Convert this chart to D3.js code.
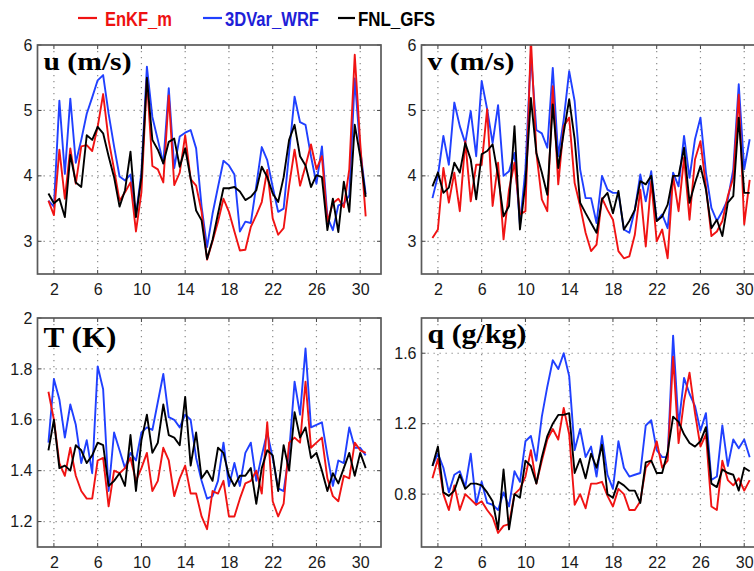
<!DOCTYPE html>
<html lang="en">
<head>
<meta charset="utf-8">
<title>EnKF_m / 3DVar_WRF / FNL_GFS</title>
<script src="https://cdn.jsdelivr.net/npm/d3@7/dist/d3.min.js"></script>
<style>
  body { margin: 0; background: #fff; }
  svg { display: block; }
  .tick-label { font-family: "Liberation Sans", Arial, sans-serif; font-size: 16px; fill: #1a1a1a; }
  .title { font-family: "Liberation Serif", "Times New Roman", serif; font-weight: bold; fill: #000; }
  .legend { font-family: "Liberation Sans", Arial, sans-serif; font-weight: bold; font-size: 21px; }
</style>
</head>
<body>
<script>
// time axis: day of month, every 12 h
const days = d3.range(1.5, 30.51, 0.5);
const xTicks = [2, 6, 10, 14, 18, 22, 26, 30];

const seriesNames = ["EnKF_m", "3DVar_WRF", "FNL_GFS"];
const seriesColors = ["#f01313", "#2040ff", "#000000"];

// u (m/s)
const uEnKF = [3.62,3.40,4.40,3.65,4.42,3.88,4.45,4.47,4.38,4.75,5.25,4.55,4.10,3.62,3.75,3.90,3.15,3.75,5.48,4.15,
  4.10,3.90,5.23,3.86,4.05,4.62,3.95,3.85,3.45,2.72,3.00,3.30,3.65,3.45,3.15,2.86,2.87,3.22,3.40,3.60,
  4.09,3.35,3.10,3.20,3.85,4.40,3.85,4.15,4.48,4.10,4.30,3.30,3.58,3.65,3.52,4.10,5.85,4.50,3.38];
const u3DVar = [3.62,3.53,5.15,4.03,5.18,4.20,4.55,4.95,5.20,5.46,5.54,4.95,4.45,3.99,3.93,4.02,3.40,4.05,5.67,4.90,
  4.55,4.19,5.34,4.12,4.60,4.66,4.70,4.42,3.53,2.91,3.42,3.83,4.23,4.16,4.02,3.15,3.30,3.28,3.85,4.44,
  4.24,3.83,3.45,3.50,4.35,5.21,4.82,4.78,4.30,3.88,4.45,3.37,3.17,3.55,3.58,3.70,5.49,4.40,3.72];
const uFNL = [3.73,3.58,3.65,3.37,4.32,3.90,3.83,4.62,4.55,4.75,4.65,4.30,3.98,3.53,3.78,4.37,3.37,3.98,5.50,4.55,
  4.40,4.19,4.52,4.57,4.14,4.42,3.96,3.47,3.32,2.73,3.02,3.42,3.81,3.81,3.83,3.76,3.63,3.68,3.78,4.14,
  3.98,3.73,3.60,3.98,4.55,4.78,4.30,4.16,3.83,4.01,3.98,3.17,3.65,3.14,3.91,3.45,4.78,4.30,3.68];

// v (m/s)
const vEnKF = [3.05,3.18,4.12,3.59,4.05,3.46,4.53,3.61,4.17,4.17,5.02,3.54,4.20,3.03,3.79,4.20,3.41,3.46,6.10,4.35,
  3.64,3.46,5.37,3.87,4.76,4.89,3.89,3.54,3.13,2.85,2.95,3.66,3.48,3.33,2.85,2.74,2.77,3.10,3.79,2.92,
  3.92,3.00,3.18,2.74,4.00,3.46,4.28,3.33,4.25,4.53,3.84,3.08,3.15,3.31,3.69,3.97,5.24,3.26,3.94];
const v3DVar = [3.66,4.00,4.61,4.17,5.12,4.76,4.50,4.99,4.30,5.45,5.02,4.50,5.08,4.00,4.07,4.35,3.25,4.10,5.86,4.70,
  4.65,4.43,5.65,4.30,4.86,5.60,5.14,4.10,3.66,3.66,3.28,4.00,3.79,3.74,3.74,3.18,3.13,3.48,4.02,3.61,
  4.07,3.31,3.41,3.20,4.05,3.84,4.61,3.97,4.56,4.89,4.05,3.51,3.31,3.46,3.64,4.10,5.40,4.10,4.56];
const vFNL = [3.84,4.05,3.74,3.82,4.20,4.05,4.50,4.25,3.64,4.33,4.38,4.48,4.00,3.38,3.54,4.76,3.18,3.89,5.19,4.35,
  4.05,3.71,5.09,4.12,4.66,5.17,4.56,3.59,3.43,3.28,3.13,3.64,3.74,3.43,3.77,3.18,3.31,3.48,3.92,3.87,
  4.00,3.31,3.38,3.56,4.00,4.00,4.43,3.59,3.89,4.15,3.79,3.20,3.33,3.08,3.59,3.69,4.89,3.74,3.74];

// T (K)
const tEnKF = [1.71,1.60,1.43,1.38,1.49,1.38,1.32,1.29,1.29,1.44,1.45,1.26,1.40,1.39,1.41,1.45,1.36,1.41,1.47,1.32,
  1.36,1.49,1.44,1.30,1.37,1.42,1.31,1.31,1.22,1.17,1.32,1.31,1.36,1.22,1.22,1.29,1.35,1.36,1.40,1.31,
  1.59,1.28,1.22,1.27,1.51,1.53,1.51,1.75,1.49,1.51,1.53,1.37,1.30,1.28,1.38,1.37,1.51,1.48,1.47];
const t3DVar = [1.51,1.76,1.68,1.53,1.66,1.58,1.43,1.52,1.39,1.81,1.72,1.32,1.55,1.48,1.41,1.47,1.44,1.55,1.57,1.56,
  1.67,1.78,1.61,1.60,1.57,1.62,1.60,1.45,1.36,1.29,1.30,1.36,1.51,1.34,1.43,1.34,1.47,1.51,1.36,1.46,
  1.55,1.45,1.33,1.32,1.47,1.75,1.62,1.88,1.57,1.58,1.59,1.46,1.34,1.44,1.43,1.57,1.49,1.49,1.46];
const tFNL = [1.48,1.60,1.41,1.42,1.40,1.50,1.48,1.43,1.46,1.51,1.50,1.34,1.36,1.39,1.34,1.54,1.32,1.52,1.62,1.47,
  1.51,1.66,1.54,1.53,1.50,1.69,1.42,1.55,1.37,1.40,1.36,1.49,1.47,1.38,1.34,1.38,1.38,1.41,1.27,1.41,
  1.48,1.46,1.32,1.50,1.40,1.63,1.53,1.57,1.45,1.47,1.40,1.32,1.39,1.35,1.41,1.47,1.38,1.47,1.41];

// q (g/kg)
const qEnKF = [0.89,1.00,0.80,0.71,0.85,0.71,0.80,0.77,0.74,0.76,0.71,0.67,0.58,0.62,0.63,0.80,0.83,0.90,1.05,0.86,
  0.99,1.11,1.17,1.11,1.29,1.14,0.74,0.80,0.72,0.86,0.86,0.87,0.79,0.73,0.83,0.80,0.71,0.71,0.76,0.95,
  0.99,1.10,0.95,0.99,1.58,1.09,1.33,1.49,1.26,1.07,1.14,0.73,0.71,0.99,0.88,0.85,0.89,0.82,0.88];
const q3DVar = [0.96,1.03,0.95,0.81,0.91,0.93,0.84,1.03,0.74,0.87,0.75,0.74,0.71,0.81,0.73,0.93,0.87,1.10,1.13,0.99,
  1.24,1.41,1.56,1.51,1.60,1.47,1.05,1.17,1.01,1.07,0.90,1.13,0.91,0.83,1.10,0.95,0.90,0.91,0.92,1.19,
  1.22,1.05,1.01,1.01,1.70,1.19,1.46,1.37,1.30,1.16,1.26,0.88,0.90,1.19,0.96,1.11,1.06,1.11,1.01];
const qFNL = [0.96,1.07,0.81,0.79,0.82,0.91,0.83,0.86,0.86,0.85,0.81,0.76,0.60,0.94,0.60,0.80,0.78,0.99,0.96,0.86,
  1.01,1.13,1.20,1.25,1.25,1.26,0.92,1.00,0.89,1.03,0.95,1.08,0.80,0.78,0.87,0.85,0.82,0.82,0.75,0.98,
  0.99,0.92,0.92,1.04,1.24,1.21,1.14,1.09,1.07,1.10,1.18,0.86,0.84,0.94,0.92,0.91,0.82,0.95,0.93];

const panels = [
  { title: "u (m/s)", series: [uEnKF, u3DVar, uFNL], yDomain: [2.5, 6], yTicks: [3, 4, 5, 6],
    left: 37.5, top: 45, titleSize: 26, titleLen: 88, titleY: 70 },
  { title: "v (m/s)", series: [vEnKF, v3DVar, vFNL], yDomain: [2.5, 6], yTicks: [3, 4, 5, 6],
    left: 421.5, top: 45, titleSize: 26, titleLen: 87, titleY: 70 },
  { title: "T (K)", series: [tEnKF, t3DVar, tFNL], yDomain: [1.1, 2], yTicks: [1.2, 1.4, 1.6, 1.8, 2],
    left: 37.5, top: 318, titleSize: 29, titleLen: 73, titleY: 347 },
  { title: "q (g/kg)", series: [qEnKF, q3DVar, qFNL], yDomain: [0.5, 1.8], yTicks: [0.8, 1.2, 1.6],
    left: 421.5, top: 318, titleSize: 27, titleLen: 99, titleY: 343 }
];

const W = 754, H = 571;
const pw = 343.5, ph = 229;

const svg = d3.select("body").append("svg")
  .attr("width", W)
  .attr("height", H);

// legend
const legendItems = [
  { x1: 78, x2: 97, tx: 105, tl: 67 },
  { x1: 203, x2: 222, tx: 225, tl: 94 },
  { x1: 338, x2: 355, tx: 358, tl: 77 }
];
legendItems.forEach((it, i) => {
  svg.append("line")
    .attr("x1", it.x1).attr("x2", it.x2)
    .attr("y1", 18).attr("y2", 18)
    .attr("stroke", seriesColors[i]).attr("stroke-width", 2.2);
  svg.append("text")
    .attr("class", "legend")
    .attr("x", it.tx).attr("y", 26)
    .attr("textLength", it.tl).attr("lengthAdjust", "spacingAndGlyphs")
    .attr("fill", i == 0 ? "#ee1111" : (i == 1 ? "#1f1fd8" : "#000"))
    .text(seriesNames[i]);
});

panels.forEach((p, pi) => {
  const g = svg.append("g").attr("transform", `translate(${p.left},${p.top})`);

  const x = d3.scaleLinear().domain([0.5, 31.9]).range([0, pw]);
  const y = d3.scaleLinear().domain(p.yDomain).range([ph, 0]);

  const clipId = "clip" + pi;
  g.append("clipPath").attr("id", clipId)
    .append("rect").attr("width", pw).attr("height", ph);

  // dotted grid
  g.selectAll(".vgrid").data(xTicks).enter().append("line")
    .attr("x1", d => x(d)).attr("x2", d => x(d))
    .attr("y1", 0).attr("y2", ph)
    .attr("stroke", "#8a8a8a").attr("stroke-width", 1.2)
    .attr("stroke-dasharray", "1.3,4.7");
  g.selectAll(".hgrid").data(p.yTicks.filter(t => t < p.yDomain[1])).enter().append("line")
    .attr("x1", 0).attr("x2", pw)
    .attr("y1", d => y(d)).attr("y2", d => y(d))
    .attr("stroke", "#8a8a8a").attr("stroke-width", 1.2)
    .attr("stroke-dasharray", "1.3,4.7");

  // axes
  const xAxis = d3.axisBottom(x).tickValues(xTicks).tickSize(0).tickPadding(10);
  const yAxis = d3.axisLeft(y).tickValues(p.yTicks).tickSize(0).tickPadding(5).tickFormat(d3.format("~g"));
  const gx = g.append("g").attr("transform", `translate(0,${ph})`).call(xAxis);
  const gy = g.append("g").call(yAxis);
  [gx, gy].forEach(a => {
    a.select(".domain").remove();
    a.selectAll("text").attr("class", "tick-label").attr("fill", null);
  });

  // small inward tick marks on all sides
  xTicks.forEach(t => {
    g.append("line").attr("x1", x(t)).attr("x2", x(t)).attr("y1", ph).attr("y2", ph - 4)
      .attr("stroke", "#444").attr("stroke-width", 1);
    g.append("line").attr("x1", x(t)).attr("x2", x(t)).attr("y1", 0).attr("y2", 4)
      .attr("stroke", "#444").attr("stroke-width", 1);
  });
  p.yTicks.forEach(t => {
    g.append("line").attr("x1", 0).attr("x2", 4).attr("y1", y(t)).attr("y2", y(t))
      .attr("stroke", "#444").attr("stroke-width", 1);
    g.append("line").attr("x1", pw).attr("x2", pw - 4).attr("y1", y(t)).attr("y2", y(t))
      .attr("stroke", "#444").attr("stroke-width", 1);
  });

  // series lines
  const line = d3.line().x((d, i) => x(days[i])).y(d => y(d));
  const lines = g.append("g").attr("clip-path", `url(#${clipId})`);
  [1, 0, 2].forEach(si => {
    lines.append("path")
      .datum(p.series[si])
      .attr("d", line)
      .attr("fill", "none")
      .attr("stroke", seriesColors[si])
      .attr("stroke-width", 1.9)
      .attr("stroke-linejoin", "round");
  });

  // frame
  g.append("rect")
    .attr("width", pw).attr("height", ph)
    .attr("fill", "none").attr("stroke", "#5a5a5a").attr("stroke-width", 1.7);

  // panel title
  g.append("text")
    .attr("class", "title")
    .attr("x", 6).attr("y", p.titleY - p.top)
    .attr("font-size", p.titleSize + "px")
    .attr("textLength", p.titleLen).attr("lengthAdjust", "spacingAndGlyphs")
    .text(p.title);
});
</script>
</body>
</html>
